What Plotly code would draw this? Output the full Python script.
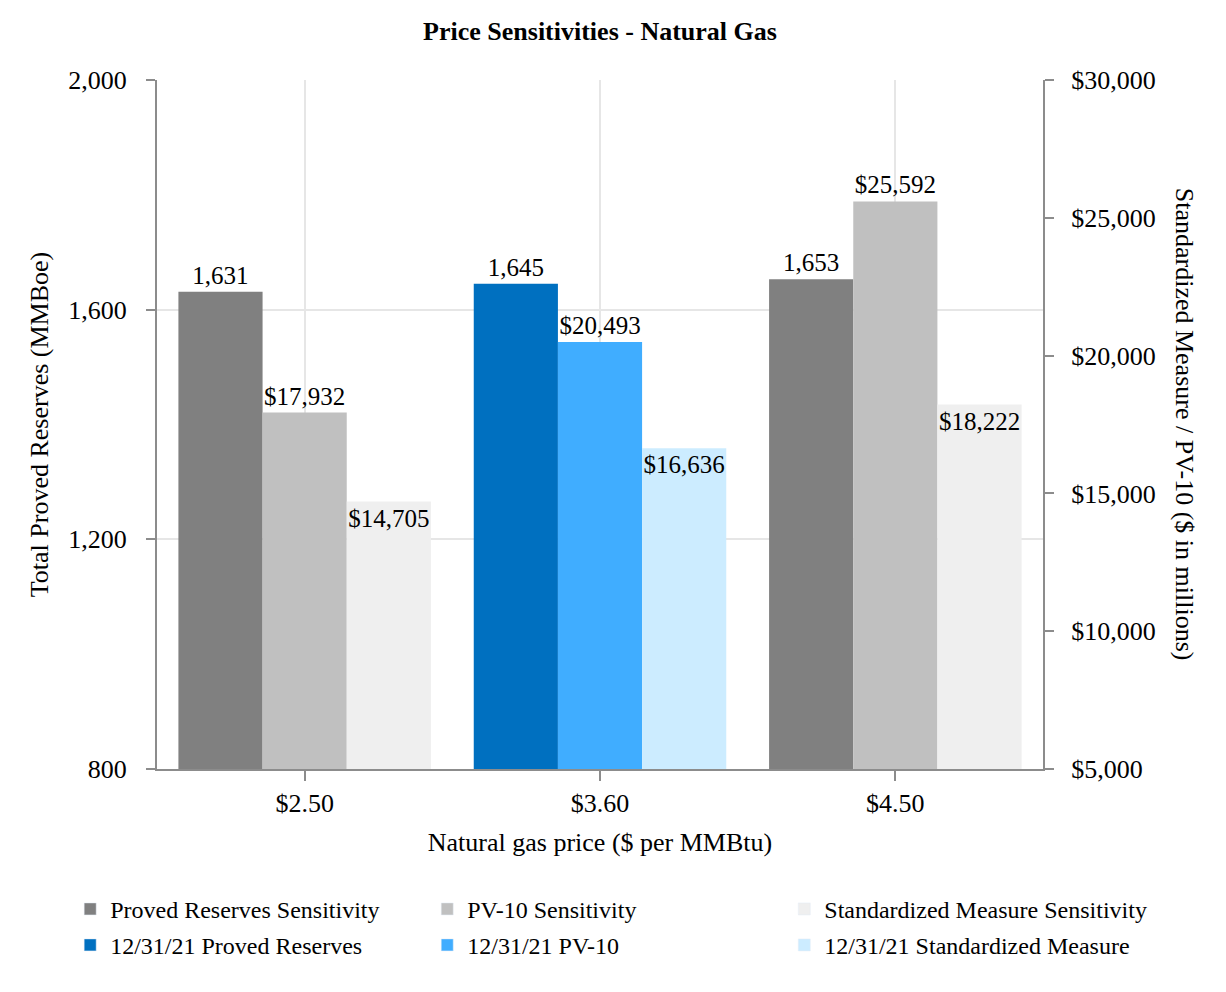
import plotly.graph_objects as go

categories = ["$2.50", "$3.60", "$4.50"]
proved_reserves = [1631, 1645, 1653]
pv10 = [17932, 20493, 25592]
std_measure = [14705, 16636, 18222]

legend_names = [
    ["Proved Reserves Sensitivity", "12/31/21 Proved Reserves"],
    ["PV-10 Sensitivity", "12/31/21 PV-10"],
    ["Standardized Measure Sensitivity", "12/31/21 Standardized Measure"],
]
gray_colors = ["#808080", "#C0C0C0", "#EFEFEF"]
blue_colors = ["#0070C0", "#40ADFF", "#CCECFF"]

FONT = "Liberation Serif, Times New Roman, serif"
FS_AX = 26
FS_LBL = 25
FS_LEG = 24
W = 0.285
offsets = [-0.4275, -0.1425, 0.1425]

fig = go.Figure()

series = [
    (proved_reserves, "y", "outside", "%{y:,d}"),
    (pv10, "y2", "outside", "$%{y:,d}"),
    (std_measure, "y2", "inside", "$%{y:,d}"),
]
for i, (vals, yax, tpos, tmpl) in enumerate(series):
    colors = [gray_colors[i], blue_colors[i], gray_colors[i]]
    fig.add_trace(go.Bar(
        x=categories, y=vals, yaxis=yax,
        width=W, offset=offsets[i],
        marker=dict(color=colors, line=dict(width=0)),
        texttemplate=tmpl, textposition=tpos, textangle=0,
        insidetextanchor="end",
        textfont=dict(family=FONT, size=FS_LBL, color="black"),
        outsidetextfont=dict(family=FONT, size=FS_LBL, color="black"),
        insidetextfont=dict(family=FONT, size=FS_LBL, color="black"),
        constraintext="none", cliponaxis=False,
        showlegend=False, hoverinfo="skip",
    ))

# legend entries: one small legend per cell (3 columns x 2 rows)
col_x = [-0.098, 0.305, 0.708]
row_y = [-0.171, -0.2232]
legend_common = dict(
    orientation="v", xanchor="left", yanchor="top",
    font=dict(family=FONT, size=FS_LEG, color="black"),
    bgcolor="rgba(0,0,0,0)", borderwidth=0,
)
legend_layout = {}
n = 0
for r in range(2):
    for c in range(3):
        n += 1
        key = "legend" if n == 1 else f"legend{n}"
        fig.add_trace(go.Bar(
            x=[None], y=[None], name=legend_names[c][r],
            marker=dict(color=(gray_colors if r == 0 else blue_colors)[c]),
            legend=key, showlegend=True,
        ))
        legend_layout[key] = dict(x=col_x[c], y=row_y[r], **legend_common)
fig.update_layout(**legend_layout)

fig.update_layout(
    width=1226, height=992,
    margin=dict(l=149, r=191, t=72, b=231),
    paper_bgcolor="white", plot_bgcolor="white",
    barmode="overlay",
    font=dict(family=FONT, size=FS_AX, color="black"),
    title=dict(text="<b>Price Sensitivities - Natural Gas</b>", x=0.5, xref="paper",
               y=0.977, yanchor="middle",
               font=dict(family=FONT, size=26, color="black")),
    xaxis=dict(
        type="category", categoryorder="array", categoryarray=categories,
        showline=True, linecolor="#8c8c8c", linewidth=2,
        showgrid=True, gridcolor="#e6e6e6", gridwidth=2,
        ticks="outside", ticklen=10, tickcolor="#8c8c8c", tickwidth=2,
        tickfont=dict(family=FONT, size=FS_AX, color="black"),
        title=dict(text="Natural gas price ($ per MMBtu)", standoff=16,
                   font=dict(family=FONT, size=FS_AX, color="black")),
        range=[-0.5, 2.5],
    ),
    yaxis=dict(
        range=[800, 2000], dtick=400, tick0=800, tickformat=",d",
        showline=True, linecolor="#8c8c8c", linewidth=2,
        showgrid=True, gridcolor="#e6e6e6", gridwidth=2,
        ticks="outside", ticklen=9, tickcolor="#8c8c8c", tickwidth=2,
        ticklabelstandoff=14,
        tickfont=dict(family=FONT, size=FS_AX, color="black"),
        title=dict(text="Total Proved Reserves (MMBoe)", standoff=12,
                   font=dict(family=FONT, size=FS_AX, color="black")),
        zeroline=False,
    ),
    yaxis2=dict(
        overlaying="y", side="right",
        range=[5000, 30000], dtick=5000, tick0=5000,
        tickformat=",d", tickprefix="$",
        showline=True, linecolor="#8c8c8c", linewidth=2,
        showgrid=False,
        ticks="outside", ticklen=9, tickcolor="#8c8c8c", tickwidth=2,
        ticklabelstandoff=12,
        tickfont=dict(family=FONT, size=FS_AX, color="black"),
        zeroline=False,
    ),
    annotations=[dict(
        text="Standardized Measure / PV-10 ($ in millions)",
        xref="paper", yref="paper", x=1.16, y=0.5,
        xanchor="center", yanchor="middle", textangle=90, showarrow=False,
        font=dict(family=FONT, size=FS_AX, color="black"),
    )],
)

fig.write_html("out.html")
